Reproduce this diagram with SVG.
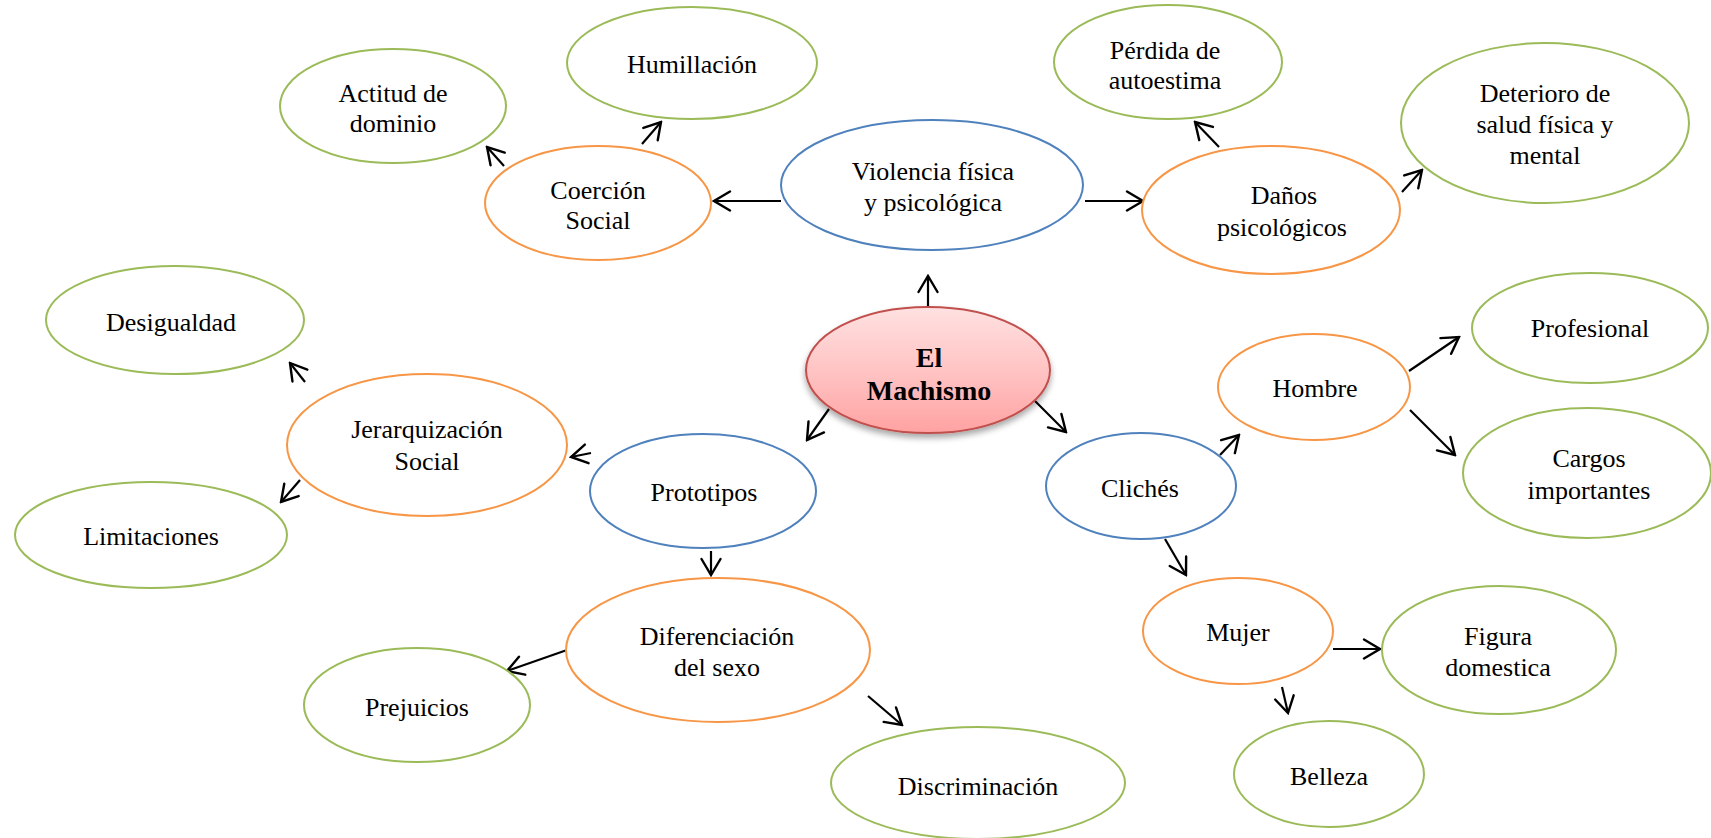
<svg xmlns="http://www.w3.org/2000/svg" width="1711" height="838" viewBox="0 0 1711 838">
  <style>
    text { font-family: "Liberation Serif", "Times New Roman", serif; font-size: 26px; fill: #000; text-anchor: middle; }
    .lvl1 { fill: #fff; stroke: #4F81BD; stroke-width: 2; }
    .lvl2 { fill: #fff; stroke: #F79646; stroke-width: 2; }
    .lvl3 { fill: #fff; stroke: #9BBB59; stroke-width: 2; }
    .root { fill: url(#rootFill); stroke: #C0504D; stroke-width: 2; }
    .root-text { font-weight: bold; font-size: 28px; }
    #connectors line { stroke: #000; stroke-width: 2.2; fill: none; marker-end: url(#head); }
  </style>
  <defs>
    <linearGradient id="rootFill" x1="0" y1="0" x2="0" y2="1">
      <stop offset="0" stop-color="#FFE1E1"/>
      <stop offset="0.5" stop-color="#FFC4C4"/>
      <stop offset="1" stop-color="#FFA2A2"/>
    </linearGradient>
    <filter id="shadow" x="-20%" y="-20%" width="140%" height="150%">
      <feGaussianBlur in="SourceAlpha" stdDeviation="3"/>
      <feOffset dx="0" dy="4" result="b"/>
      <feComponentTransfer><feFuncA type="linear" slope="0.35"/></feComponentTransfer>
      <feMerge><feMergeNode/><feMergeNode in="SourceGraphic"/></feMerge>
    </filter>
    <marker id="head" viewBox="0 0 20 22" refX="18" refY="11" markerWidth="20" markerHeight="22" markerUnits="userSpaceOnUse" orient="auto">
      <path d="M2,1.5 L18,11 L2,20.5" fill="none" stroke="#000" stroke-width="2.4" stroke-linecap="round" stroke-linejoin="miter"/>
    </marker>
  </defs>

  <rect width="1711" height="838" fill="#fff"/>

  <!-- connectors -->
  <g id="connectors">
    <line x1="928" y1="306" x2="928" y2="276"/>
    <line x1="829" y1="409" x2="807" y2="440"/>
    <line x1="1034" y1="400" x2="1066" y2="432"/>
    <line x1="781" y1="201" x2="714" y2="201"/>
    <line x1="1085" y1="201" x2="1143" y2="201"/>
    <line x1="504" y1="166" x2="487" y2="147"/>
    <line x1="642" y1="144" x2="661" y2="122"/>
    <line x1="1219" y1="147" x2="1195" y2="122"/>
    <line x1="1402" y1="192" x2="1422" y2="170"/>
    <line x1="591" y1="453" x2="571" y2="457"/>
    <line x1="305" y1="382" x2="290" y2="363"/>
    <line x1="300" y1="480" x2="281" y2="502"/>
    <line x1="711" y1="551" x2="711" y2="575"/>
    <line x1="567" y1="650" x2="507" y2="671"/>
    <line x1="868" y1="696" x2="902" y2="725"/>
    <line x1="1220" y1="455" x2="1239" y2="435"/>
    <line x1="1165" y1="539" x2="1186" y2="575"/>
    <line x1="1409" y1="371" x2="1459" y2="337"/>
    <line x1="1410" y1="410" x2="1455" y2="455"/>
    <line x1="1333" y1="649" x2="1380" y2="649"/>
    <line x1="1282" y1="687" x2="1288" y2="713"/>
  </g>

  <!-- central topic -->
  <g id="machismo">
    <ellipse class="root" cx="928" cy="370" rx="122" ry="63" filter="url(#shadow)"/>
    <text class="root-text" x="929" y="367">El</text>
    <text class="root-text" x="929" y="400">Machismo</text>
  </g>

  <!-- first level -->
  <g id="violencia">
    <ellipse class="lvl1" cx="932" cy="185" rx="151" ry="65"/>
    <text x="933" y="180">Violencia física</text>
    <text x="933" y="211">y psicológica</text>
  </g>
  <g id="prototipos">
    <ellipse class="lvl1" cx="703" cy="491" rx="113" ry="57"/>
    <text x="704" y="501">Prototipos</text>
  </g>
  <g id="cliches">
    <ellipse class="lvl1" cx="1141" cy="486" rx="95" ry="53"/>
    <text x="1140" y="497">Clichés</text>
  </g>

  <!-- second level -->
  <g id="coercion">
    <ellipse class="lvl2" cx="598" cy="203" rx="113" ry="57"/>
    <text x="598" y="199">Coerción</text>
    <text x="598" y="229">Social</text>
  </g>
  <g id="danos">
    <ellipse class="lvl2" cx="1271" cy="210" rx="129" ry="64"/>
    <text x="1284" y="204">Daños</text>
    <text x="1282" y="236">psicológicos</text>
  </g>
  <g id="jerarquizacion">
    <ellipse class="lvl2" cx="427" cy="445" rx="140" ry="71"/>
    <text x="427" y="438">Jerarquización</text>
    <text x="427" y="470">Social</text>
  </g>
  <g id="diferenciacion">
    <ellipse class="lvl2" cx="718" cy="650" rx="152" ry="72"/>
    <text x="717" y="645">Diferenciación</text>
    <text x="717" y="676">del sexo</text>
  </g>
  <g id="hombre">
    <ellipse class="lvl2" cx="1314" cy="387" rx="96" ry="53"/>
    <text x="1315" y="397">Hombre</text>
  </g>
  <g id="mujer">
    <ellipse class="lvl2" cx="1238" cy="631" rx="95" ry="53"/>
    <text x="1238" y="641">Mujer</text>
  </g>

  <!-- third level -->
  <g id="humillacion">
    <ellipse class="lvl3" cx="692" cy="63" rx="125" ry="56"/>
    <text x="692" y="73">Humillación</text>
  </g>
  <g id="actitud">
    <ellipse class="lvl3" cx="393" cy="106" rx="113" ry="57"/>
    <text x="393" y="102">Actitud de</text>
    <text x="393" y="132">dominio</text>
  </g>
  <g id="perdida">
    <ellipse class="lvl3" cx="1168" cy="62" rx="114" ry="57"/>
    <text x="1165" y="59">Pérdida de</text>
    <text x="1165" y="89">autoestima</text>
  </g>
  <g id="deterioro">
    <ellipse class="lvl3" cx="1545" cy="123" rx="144" ry="80"/>
    <text x="1545" y="102">Deterioro de</text>
    <text x="1545" y="133">salud física y</text>
    <text x="1545" y="164">mental</text>
  </g>
  <g id="desigualdad">
    <ellipse class="lvl3" cx="175" cy="320" rx="129" ry="54"/>
    <text x="171" y="331">Desigualdad</text>
  </g>
  <g id="limitaciones">
    <ellipse class="lvl3" cx="151" cy="535" rx="136" ry="53"/>
    <text x="151" y="545">Limitaciones</text>
  </g>
  <g id="prejuicios">
    <ellipse class="lvl3" cx="417" cy="705" rx="113" ry="57"/>
    <text x="417" y="716">Prejuicios</text>
  </g>
  <g id="discriminacion">
    <ellipse class="lvl3" cx="978" cy="783" rx="147" ry="56"/>
    <text x="978" y="795">Discriminación</text>
  </g>
  <g id="profesional">
    <ellipse class="lvl3" cx="1590" cy="328" rx="118" ry="55"/>
    <text x="1590" y="337">Profesional</text>
  </g>
  <g id="cargos">
    <ellipse class="lvl3" cx="1587" cy="473" rx="124" ry="65"/>
    <text x="1589" y="467">Cargos</text>
    <text x="1589" y="499">importantes</text>
  </g>
  <g id="figura">
    <ellipse class="lvl3" cx="1499" cy="650" rx="117" ry="64"/>
    <text x="1498" y="645">Figura</text>
    <text x="1498" y="676">domestica</text>
  </g>
  <g id="belleza">
    <ellipse class="lvl3" cx="1329" cy="774" rx="95" ry="53"/>
    <text x="1329" y="785">Belleza</text>
  </g>
</svg>
